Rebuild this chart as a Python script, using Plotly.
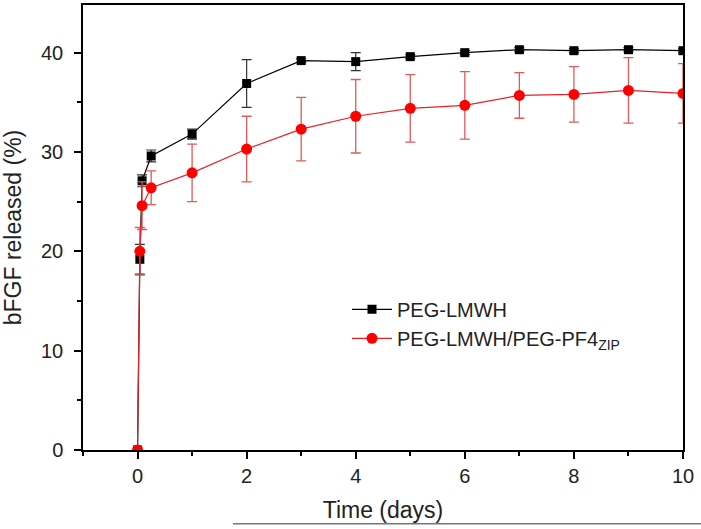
import plotly.graph_objects as go

# time points (days)
time_days = [0, 0.042, 0.083, 0.25, 1, 2, 3, 4, 5, 6, 7, 8, 9, 10]

# PEG-LMWH
lmwh = [0, 19.2, 27.1, 29.6, 31.8, 36.9, 39.2, 39.1, 39.6, 40.0, 40.3, 40.2, 40.3, 40.2]
lmwh_err = [0, 1.5, 0.6, 0.6, 0.5, 2.4, 0.2, 0.9, 0.2, 0.2, 0.2, 0.2, 0.2, 0.2]

# PEG-LMWH/PEG-PF4zip
pf4 = [0, 20.0, 24.6, 26.4, 27.9, 30.3, 32.3, 33.6, 34.4, 34.7, 35.7, 35.8, 36.2, 35.9]
pf4_err = [0, 2.4, 2.4, 1.7, 2.9, 3.3, 3.2, 3.7, 3.4, 3.4, 2.3, 2.8, 3.3, 3.0]

font_family = "Liberation Sans, Arial, sans-serif"

fig = go.Figure()

fig.add_trace(go.Scatter(
    x=time_days, y=lmwh,
    mode="lines+markers",
    name="PEG-LMWH",
    line=dict(color="black", width=1.2),
    marker=dict(symbol="square", size=9, color="black"),
    error_y=dict(type="data", array=lmwh_err, visible=True,
                 color="#333333", thickness=1.2, width=5),
))

fig.add_trace(go.Scatter(
    x=time_days, y=pf4,
    mode="lines+markers",
    name="PEG-LMWH/PEG-PF4<sub>ZIP</sub>",
    line=dict(color="#e8202a", width=1.2),
    marker=dict(symbol="circle", size=11, color="#ff0000"),
    error_y=dict(type="data", array=pf4_err, visible=True,
                 color="#e05a5a", thickness=1.3, width=5),
))

fig.update_layout(
    width=701, height=529,
    margin=dict(l=83, r=18, t=3, b=79),
    paper_bgcolor="white",
    plot_bgcolor="white",
    font=dict(family=font_family, size=19, color="#222222"),
    showlegend=True,
    legend=dict(
        x=0.44, y=0.36, xanchor="left", yanchor="top",
        bgcolor="rgba(0,0,0,0)",
        font=dict(size=20),
        itemwidth=40,
        tracegroupgap=2,
    ),
    xaxis=dict(
        range=[-1, 10],
        tickvals=[0, 2, 4, 6, 8, 10],
        tickfont=dict(size=20),
        ticks="outside", ticklen=7, tickwidth=1.5, tickcolor="black",
        minor=dict(dtick=1, ticks="outside", ticklen=4, tickwidth=1.5, tickcolor="black"),
        showline=True, linecolor="black", linewidth=1.5, mirror=True,
        showgrid=False, zeroline=False,
        title=dict(text="Time (days)", standoff=16),
    ),
    yaxis=dict(
        range=[0, 44.8],
        tickvals=[0, 10, 20, 30, 40],
        tickfont=dict(size=20),
        ticklabelstandoff=7,
        ticks="outside", ticklen=7, tickwidth=1.5, tickcolor="black",
        minor=dict(dtick=5, ticks="outside", ticklen=4, tickwidth=1.5, tickcolor="black"),
        showline=True, linecolor="black", linewidth=1.5, mirror=True,
        showgrid=False, zeroline=False,
        title=dict(text="bFGF released (%)", standoff=14),
    ),
)

# thin grey rule under the axis title (crop artifact in the original)
fig.add_shape(type="line", xref="paper", yref="paper",
              x0=0.25, x1=1.04, y0=-0.166, y1=-0.166,
              line=dict(color="#777777", width=1.5))

# drop the default page margin so the figure sits at the window's corner
fig.write_html("out.html", config={"displayModeBar": False},
               post_script="document.body.style.margin='0';")
